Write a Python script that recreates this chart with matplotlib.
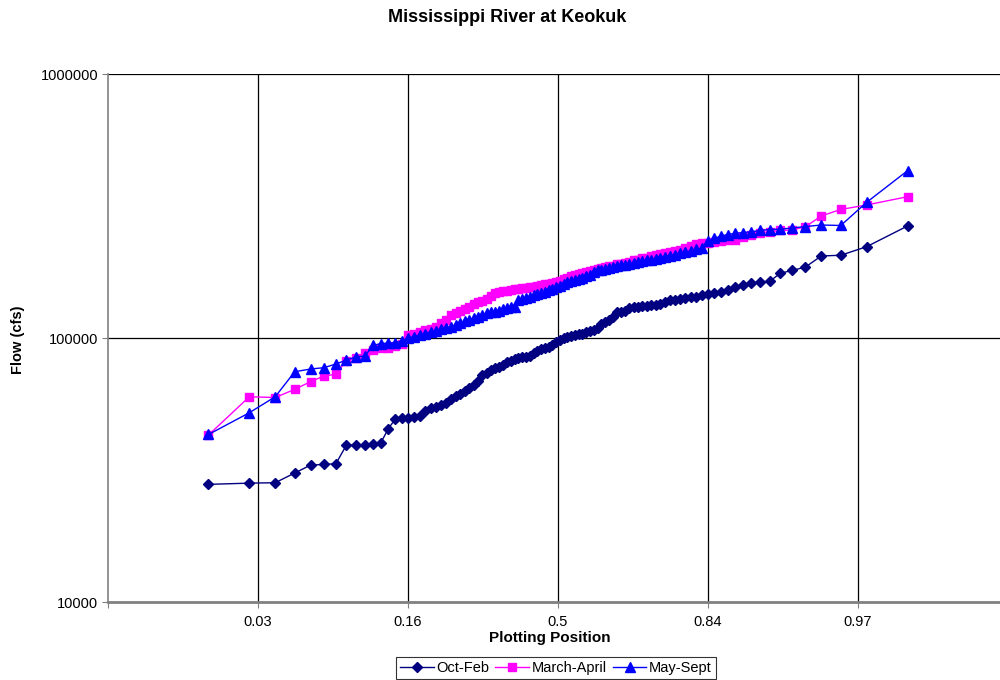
import numpy as np
import matplotlib
matplotlib.use("Agg")
import matplotlib.pyplot as plt
from matplotlib.ticker import FixedLocator, FixedFormatter, NullLocator
from statistics import NormalDist

plt.rcParams['font.family'] = ['Liberation Sans', 'DejaVu Sans']

title = "Mississippi River at Keokuk"
x_label = "Plotting Position"
y_label = "Flow (cfs)"
series_names = ["Oct-Feb", "March-April", "May-Sept"]

# Ranked flows (cfs), 100 values per season, smallest to largest
oct_feb = [27900, 28200, 28300, 30800, 33000, 33200, 33400, 39300, 39300, 39400,
           39700, 40100, 45200, 49200, 49600, 49900, 50300, 50700, 52900, 54300,
           54800, 55800, 56900, 58700, 60300, 61400, 63000, 64700, 66400, 68700,
           72400, 73700, 75700, 76700, 77700, 79000, 80800, 82000, 83000, 83800,
           84500, 85000, 85500, 88000, 89500, 90900, 91400, 92700, 94100, 96300,
           98700, 100000, 101100, 102200, 102700, 103300, 104000, 105400, 106300, 107200,
           108800, 112500, 114500, 117500, 120400, 125400, 125800, 126500, 129600, 130500,
           131300, 132200, 132200, 133100, 133400, 134500, 136900, 138700, 139900, 140800,
           141800, 142400, 143600, 145500, 146800, 147700, 149800, 152000, 155600, 158800,
           161200, 163400, 163700, 175800, 180200, 185700, 204500, 205800, 221800, 265600]

march_april = [42900, 59900, 59500, 63900, 68300, 71800, 72900, 82000, 83800, 87800,
               89700, 91300, 92000, 92900, 94900, 102700, 104000, 105400, 106800, 107700,
               109600, 114000, 117000, 122200, 124400, 126600, 129300, 131600, 134500, 136300,
               138100, 141100, 144200, 148100, 150000, 150700, 151300, 152000, 152700, 153300,
               154000, 154700, 155600, 156700, 157800, 158800, 159500, 160500, 161600, 163000,
               165100, 167300, 168800, 171000, 172500, 174800, 176300, 177800, 179800, 181700,
               182800, 184100, 185700, 187100, 188200, 189900, 191000, 192700, 194500, 196600,
               197800, 200100, 201800, 203600, 205900, 208100, 209900, 212300, 213600, 215400,
               219200, 223500, 226400, 228400, 230000, 231000, 234000, 235100, 236100, 240700,
               244500, 249200, 252700, 255400, 256500, 264000, 289900, 306800, 319100, 342900]

may_sept = [43100, 52100, 59900, 74500, 76300, 77200, 79700, 82500, 84800, 85500,
            93700, 95300, 95600, 95900, 97400, 99600, 101300, 102700, 104000, 105400,
            106500, 107700, 108800, 110500, 112000, 114000, 115700, 117000, 119100, 120600,
            122200, 124000, 125100, 125800, 127100, 128400, 129600, 130700, 131600, 138700,
            140500, 141800, 143400, 144900, 146800, 148100, 150000, 152000, 153300, 155400,
            158000, 160600, 162300, 164000, 165900, 167300, 169000, 171300, 173300, 177100,
            180200, 181400, 182800, 184400, 185700, 187400, 188500, 189400, 190700, 192300,
            194000, 195700, 196600, 197900, 199700, 200900, 202700, 204500, 206200, 209000,
            211700, 213600, 216400, 219200, 233000, 238200, 243400, 246600, 249200, 250900,
            252500, 255400, 257600, 258300, 261000, 264400, 267900, 266800, 326600, 430200]

x_tick_labels = ["", "0.03", "0.16", "0.5", "0.84", "0.97", ""]
y_ticks = [10000, 100000, 1000000]
y_tick_labels = ["10000", "100000", "1000000"]

# Weibull plotting positions i/(n+1), shown on a normal-probability axis
nd = NormalDist()
def positions(values):
    n = len(values)
    return [nd.inv_cdf(i / (n + 1)) for i in range(1, n + 1)]

W, H = 1000, 680
fig = plt.figure(figsize=(W / 100, H / 100), dpi=100)
ax = fig.add_axes([108 / W, (H - 602) / H, 900 / W, 528 / H])

styles = [
    dict(color="#000080", marker="D", ms=5.0, mfc="#000080", mec="#000080"),
    dict(color="#FF00FF", marker="s", ms=5.6, mfc="#FF00FF", mec="#FF00FF"),
    dict(color="#0000FF", marker="^", ms=7.0, mfc="#0000FF", mec="#0000FF"),
]
for name, vals, st in zip(series_names, [oct_feb, march_april, may_sept], styles):
    ax.plot(positions(vals), vals, lw=1.0, label=name, clip_on=False, **st)

ax.set_yscale("log")
ax.set_ylim(10000, 1000000)
ax.set_xlim(-3, 3)

ax.xaxis.set_major_locator(FixedLocator([-3, -2, -1, 0, 1, 2, 3]))
ax.xaxis.set_major_formatter(FixedFormatter(x_tick_labels))
ax.xaxis.set_minor_locator(NullLocator())
ax.yaxis.set_major_locator(FixedLocator(y_ticks))
ax.yaxis.set_major_formatter(FixedFormatter(y_tick_labels))
ax.yaxis.set_minor_locator(NullLocator())

for gx in [-2, -1, 0, 1, 2]:
    ax.axvline(gx, color="black", lw=0.9, zorder=0.5)
for gy in [100000, 1000000]:
    ax.axhline(gy, color="black", lw=0.9, zorder=0.5)

for s in ["top", "right"]:
    ax.spines[s].set_visible(False)
ax.spines["left"].set_color("#808080")
ax.spines["left"].set_linewidth(1.2)
ax.spines["bottom"].set_color("#808080")
ax.spines["bottom"].set_linewidth(2.0)

ax.tick_params(axis="both", direction="out", length=4, width=0.8, color="#808080",
               labelsize=10.5, pad=3)
ax.tick_params(axis="x", pad=5)

fig.text(550 / W, 1 - 638 / H, x_label, ha="center", va="center",
         fontsize=11, fontweight="bold")
fig.text(18 / W, 1 - 340 / H, y_label, ha="center", va="center", rotation=90,
         fontsize=10.5, fontweight="bold")
fig.text(507 / W, 1 - 18 / H, title, ha="center", va="center",
         fontsize=13, fontweight="bold")

leg = fig.legend(loc="center", bbox_to_anchor=(556 / W, 1 - 668 / H), ncol=3,
                 frameon=True, fancybox=False, fontsize=10.5, handlelength=2.3,
                 handletextpad=0.2, columnspacing=0.4, borderpad=0.3,
                 edgecolor="black")
leg.get_frame().set_linewidth(0.8)

fig.savefig("out.png", dpi=100)
